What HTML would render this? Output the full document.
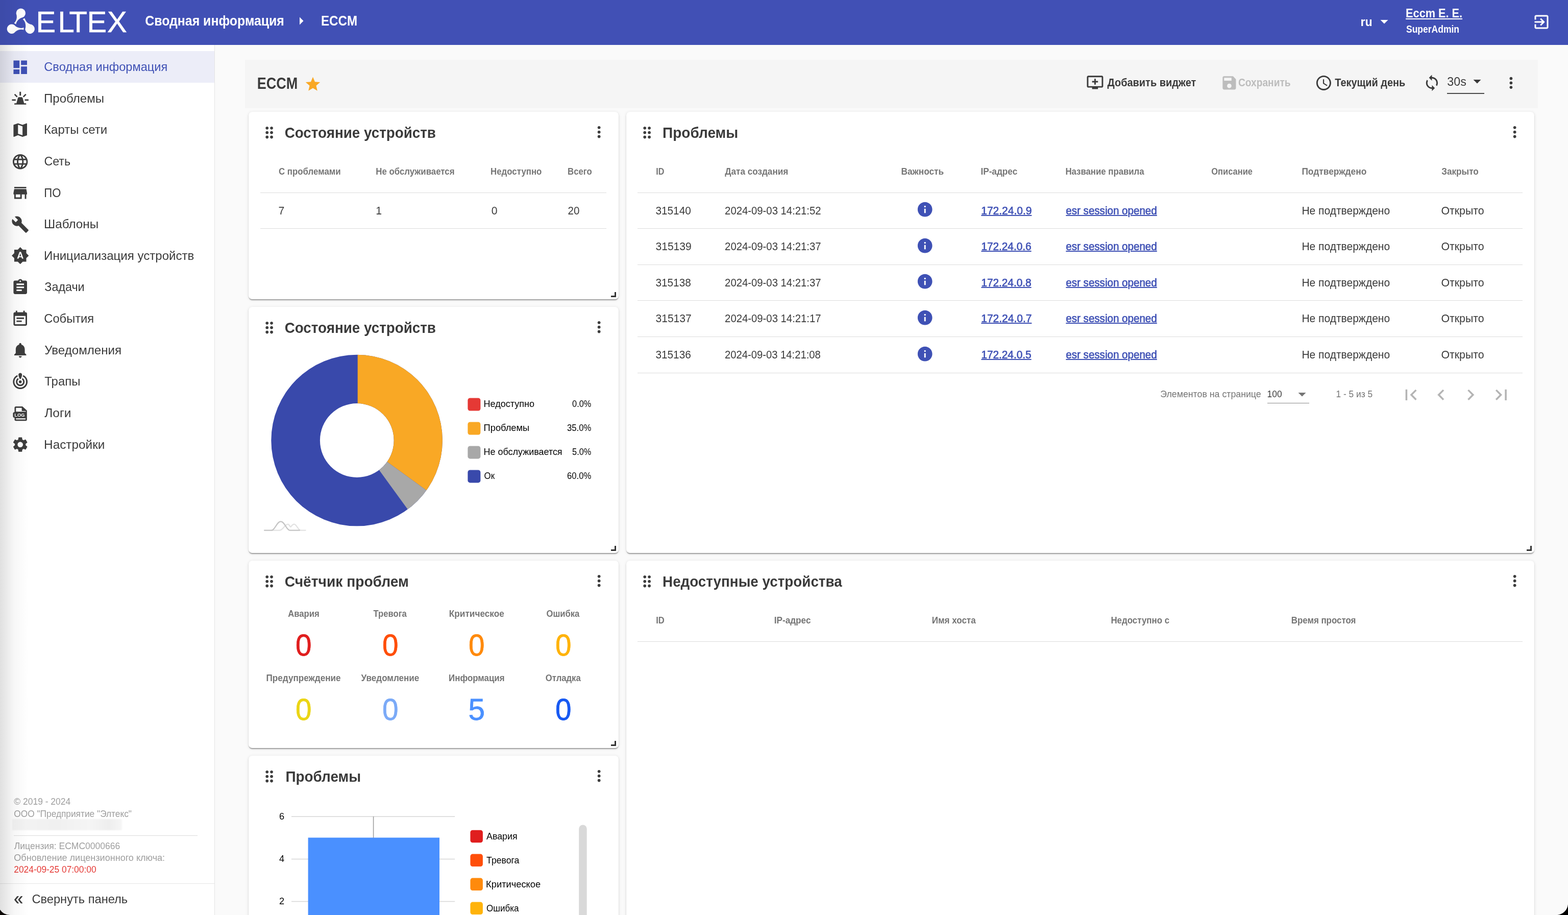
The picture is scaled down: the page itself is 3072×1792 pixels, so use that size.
<!DOCTYPE html>
<html lang="ru">
<head>
<meta charset="utf-8">
<title>ECCM — Сводная информация</title>
<style>
*{box-sizing:border-box;margin:0;padding:0}
html,body{width:3072px;height:1792px;overflow:hidden;background:#fafafa}
body{font-family:"Liberation Sans",sans-serif;color:#3a3a3a;position:relative}
svg{display:block}
a{color:#3f51b5;text-decoration:underline}
.t{display:inline-block;white-space:nowrap;transform-origin:0 50%}
.m{font-weight:700}
.lk{-webkit-text-stroke:.65px currentColor;text-decoration-thickness:1.7px;text-underline-offset:.6px}

.topbar{position:absolute;left:0;top:0;width:3072px;height:88px;background:#4150b5;color:#fff;z-index:5}
.topbar .shade{position:absolute;left:0;top:0;width:60px;height:88px;background:linear-gradient(90deg,rgba(0,0,0,.07),rgba(0,0,0,0))}
.logo{position:absolute;left:0;top:0;width:260px;height:88px}
.wordmark{font-family:"Liberation Sans",sans-serif;font-size:58px;fill:#fff;stroke:#fff;stroke-width:.6px}
.crumbs{position:absolute;left:284px;top:0;height:88px;list-style:none;font-size:27.7px;line-height:82px}
.crumbs li{position:absolute;top:0;white-space:nowrap}
.crumbs svg{position:absolute;left:288px;top:23px;width:36px;height:36px;fill:#fff}
.lang{position:absolute;left:2666px;top:0;height:88px;line-height:86px;font-size:24.6px}
.lang svg{position:absolute;left:28px;top:24px;width:36px;height:36px;fill:#fff}
.user{position:absolute;left:2755px;top:0;height:88px}
.user .name{position:absolute;left:0;top:10px;font-size:24.6px;line-height:32px;color:#fff}
.user .role{position:absolute;left:0;top:44.8px;font-size:20px;line-height:24px}
.logout{position:absolute;left:3001.5px;top:24.8px;width:36px;height:36px;fill:#fff}

.sidenav{position:absolute;left:0;top:88px;width:421px;height:1704px;background:#fff;border-right:1px solid #e4e4e4;z-index:4}
.sidenav .shade{position:absolute;left:0;top:0;width:56px;height:100%;background:linear-gradient(90deg,rgba(0,0,0,.12),rgba(0,0,0,.03) 50%,rgba(0,0,0,0));pointer-events:none}
.nav{position:absolute;left:0;top:12px;width:420px;list-style:none}
.nav li{position:relative;height:61.65px;font-size:24.6px;line-height:62px;padding-left:86px;white-space:nowrap;color:#3a3a3a}
.nav li svg{position:absolute;left:22px;top:13.6px;width:35.4px;height:35.4px;fill:#3d3d3d}
.nav li.active{background:#ecedf8;color:#3f51b5}
.nav li.active svg{fill:#3f51b5}
.foot{position:absolute;left:27px;margin-top:.6px;font-size:18.45px;line-height:24px;color:#9e9e9e;white-space:nowrap}
.foot.red{color:#e53935}
.blurbar{position:absolute;left:24px;top:1516px;width:215px;height:22px;background:linear-gradient(90deg,#f4f4f4,#f0f0f0 40%,#f5f5f5 70%,#eee 88%,#f6f6f6);border-radius:2px;filter:blur(1.2px)}
.foot-hr{position:absolute;left:27px;top:1548px;width:360px;height:1px;background:#dcdcdc}
.collapse{position:absolute;left:0;top:1642px;width:420px;height:62px;border-top:1px solid #e6e6e6;font-size:23.1px;line-height:60.8px;padding-left:62px;color:#3a3a3a;white-space:nowrap}
.collapse .gl{position:absolute;left:28px;top:-2.3px;font-size:35.5px;line-height:60px;-webkit-text-stroke:.5px currentColor}
.corner{position:absolute;bottom:0;width:24px;height:24px;z-index:20}
.corner.l{left:0}
.corner.r{right:0}

.dash-bar{position:absolute;left:480px;top:117px;width:2533px;height:95px;background:#f5f5f5}
.dash-title{position:absolute;left:24px;top:0;height:94px;line-height:94px;font-size:30.7px;color:#3a3a3a}
.dash-star{position:absolute;left:116px;top:31px;width:34px;height:34px;fill:#f9a825}
.tb{position:absolute;top:0;height:94px;line-height:90px;font-size:21.5px;color:#3a3a3a;white-space:nowrap}
.tb.dis{color:#bdbdbd}
.ti{position:absolute;width:34.8px;height:34.8px;fill:#3a3a3a}
.ti.dis{fill:#bdbdbd}
.sel30{position:absolute;left:2355px;top:24px;width:73px;height:43px;border-bottom:2px solid #4a4a4a;font-size:24.6px;line-height:37.6px;color:#3a3a3a}
.sel30 svg{position:absolute;left:41px;top:0;width:36px;height:36px;fill:#3a3a3a}

.card{position:absolute;background:#fff;border-radius:7px;box-shadow:0 3px 2px -1px rgba(0,0,0,.28),0 1px 2px 0 rgba(0,0,0,.14),0 1px 6px 0 rgba(0,0,0,.10);overflow:hidden}
.card h2{position:absolute;left:70px;top:18.9px;font-size:29.2px;line-height:44px;font-weight:400;color:#3a3a3a;white-space:nowrap}
.card .drag{position:absolute;left:23.4px;top:22.6px;width:35.3px;height:35.3px;fill:#3d3d3d}
.card .kebab{position:absolute;top:21.8px;width:35.3px;height:35.3px;fill:#3d3d3d}
.card .grip{position:absolute;right:5px;bottom:4px;width:10px;height:10px;border-right:3px solid #333;border-bottom:3px solid #333}

table{border-collapse:separate;border-spacing:0;position:absolute;table-layout:fixed}
th{height:85px;font-size:18.45px;font-weight:400;color:#757575;text-align:left;white-space:nowrap;border-bottom:1px solid #dcdcdc;padding:2.9px 0 0}
td{height:70px;font-size:21.5px;color:#3a3a3a;text-align:left;white-space:nowrap;border-bottom:1px solid #dcdcdc;padding:1.9px 0 0}
tr:nth-child(2) td,tr:nth-child(4) td,tr:nth-child(5) td{height:71px}
td svg{width:34.4px;height:34.4px;fill:#3f51b5;margin-left:29.2px;margin-top:-6px}
th:first-child,td:first-child{padding-left:36px}

.cnt{position:absolute;left:23px;width:678px;height:126px;display:flex;list-style:none}
.cnt li{width:169.5px;text-align:center;position:relative}
.cnt li>span{display:block;font-size:18.45px;line-height:24px;color:#757575;white-space:nowrap}
.cnt .t{display:inline-block}
.cnt b{display:block;font-size:60px;line-height:76px;font-weight:400;margin-top:11.9px;-webkit-text-stroke:.8px currentColor}
.cnt b .t{transform-origin:0 50%}
.pager{position:absolute;left:0;top:519px;width:1778px;height:68px}
.pager>span{position:absolute;top:0;height:68px;line-height:67.6px;font-size:18.45px;color:#757575;white-space:nowrap}
.pager .psel{width:82px;height:52px;line-height:67.6px;border-bottom:1.5px solid #8a8a8a;color:#3a3a3a}
.pager .psel svg{position:absolute;right:-4px;top:16px;width:36px;height:36px;fill:#757575}
.pager .pi{position:absolute;top:13.7px;width:42.5px;height:42.5px;fill:#b4b4b4}
.chart{position:absolute;left:1px;top:0}
.lg{position:absolute;font-size:18.45px;line-height:24px;color:#000;white-space:nowrap}
.ax{position:absolute;font-size:18.45px;line-height:24px;color:#000;white-space:nowrap}
</style>
</head>
<body>
<header class="topbar"><div class="shade"></div><svg class="logo" viewBox="0 0 260 88"><defs><linearGradient id="lg1" gradientUnits="userSpaceOnUse" x1="-32" x2="10" y1="0" y2="0"><stop offset="0" stop-color="#e9e9e9"/><stop offset="1" stop-color="#fff"/></linearGradient></defs><g transform="translate(40.8 46.4)" fill="url(#lg1)"><g id="comet"><circle cx="0" cy="-20.7" r="9.2"/><path d="M-8.3 -16.5C-7 -10.5 -9.5 -5 -13.2 -1.1L-9.6 1.2C-8 -6 -3 -10.5 6.5 -13.800Z"/></g><use href="#comet" transform="rotate(120)"/><use href="#comet" transform="rotate(240)"/></g><text class="wordmark" x="70.5 113.5 135.5 170.5 210" y="62.5">ELTEX</text></svg><ul class="crumbs"><li style="left:0"><span class="t m" style="transform:translateX(0.3px) scaleX(0.898)">Сводная информация</span></li><svg viewBox="0 0 24 24"><path d="M10 17l5-5-5-5v10z"/></svg><li style="left:344px"><span class="t m" style="transform:translateX(1.0px) scaleX(0.873)">ECCM</span></li></ul><div class="lang"><span class="t m" style="transform:translateX(-0.5px) scaleX(0.939)">ru</span><svg viewBox="0 0 24 24"><path d="M7 10l5 5 5-5z"/></svg></div><div class="user"><a class="t m name" style="transform:translateX(-0.9px) scaleX(0.882)">Eccm E. E.</a><div class="role"><span class="t m" style="transform:scaleX(0.875)">SuperAdmin</span></div></div><svg class="logout" viewBox="0 0 24 24"><path d="M10.09 15.59L11.5 17l5-5-5-5-1.41 1.41L12.67 11H3v2h9.67l-2.58 2.59zM19 3H5c-1.11 0-2 .9-2 2v4h2V5h14v14H5v-4H3v4c0 1.1.89 2 2 2h14c1.1 0 2-.9 2-2V5c0-1.1-.9-2-2-2z"/></svg></header><aside class="sidenav"><ul class="nav"><li class="active"><svg viewBox="0 0 24 24"><path d="M3 13h8V3H3v10zm0 8h8v-6H3v6zm10 0h8V11h-8v10zm0-18v6h8V3h-8z"/></svg><span class="t" style="transform:translateX(0.3px) scaleX(0.960)">Сводная информация</span></li><li><svg viewBox="0 0 24 24"><path d="M11 3.3h2v5h-2zM1 13.2h5v1.9H1zM18 13.2h5v1.9h-5zM3.9 7.2l1.25-1.25 3.4 3.4-1.25 1.25zM20.1 7.2l-1.25-1.25-3.4 3.4 1.25 1.25zM10.3 10.4h3.4c.8 0 1.3.5 1.5 1.2l1.9 6.8h2c.5 0 .8.3.8.8v1H4.1v-1c0-.5.3-.8.8-.8h2l1.9-6.8c.2-.7.7-1.2 1.5-1.2z"/></svg><span class="t" style="transform:translateX(0.1px) scaleX(0.977)">Проблемы</span></li><li><svg viewBox="0 0 24 24"><path d="M20.5 3l-.16.03L15 5.1 9 3 3.36 4.9c-.21.07-.36.25-.36.48V20.5c0 .28.22.5.5.5l.16-.03L9 18.9l6 2.1 5.64-1.9c.21-.07.36-.25.36-.48V3.5c0-.28-.22-.5-.5-.5zM15 19l-6-2.11V5l6 2.11V19z"/></svg><span class="t" style="transform:translateX(0.1px) scaleX(0.976)">Карты сети</span></li><li><svg viewBox="0 0 24 24"><path d="M11.99 2C6.47 2 2 6.48 2 12s4.47 10 9.99 10C17.52 22 22 17.52 22 12S17.52 2 11.99 2zm6.93 6h-2.95c-.32-1.25-.78-2.45-1.38-3.56 1.84.63 3.37 1.91 4.33 3.56zM12 4.04c.83 1.2 1.48 2.53 1.91 3.96h-3.82c.43-1.43 1.08-2.76 1.91-3.96zM4.26 14C4.1 13.36 4 12.69 4 12s.1-1.36.26-2h3.38c-.08.66-.14 1.32-.14 2 0 .68.06 1.34.14 2H4.26zm.82 2h2.95c.32 1.25.78 2.45 1.38 3.56-1.84-.63-3.37-1.9-4.33-3.56zm2.95-8H5.08c.96-1.66 2.49-2.93 4.33-3.56C8.81 5.55 8.35 6.75 8.03 8zM12 19.96c-.83-1.2-1.48-2.53-1.91-3.96h3.82c-.43 1.43-1.08 2.76-1.91 3.96zM14.34 14H9.66c-.09-.66-.16-1.32-.16-2 0-.68.07-1.35.16-2h4.68c.09.65.16 1.32.16 2 0 .68-.07 1.34-.16 2zm.25 5.56c.6-1.11 1.06-2.31 1.38-3.56h2.95c-.96 1.65-2.49 2.93-4.33 3.56zM16.36 14c.08-.66.14-1.32.14-2 0-.68-.06-1.34-.14-2h3.38c.16.64.26 1.31.26 2s-.1 1.36-.26 2h-3.38z"/></svg><span class="t" style="transform:translateX(0.4px) scaleX(0.944)">Сеть</span></li><li><svg viewBox="0 0 24 24"><path d="M20 4H4v2h16V4zm1 10v-2l-1-5H4l-1 5v2h1v6h10v-6h4v6h2v-6h1zm-9 4H6v-4h6v4z"/></svg><span class="t" style="transform:translateX(0.3px) scaleX(0.897)">ПО</span></li><li><svg viewBox="0 0 24 24"><path d="M22.7 19l-9.1-9.1c.9-2.3.4-5-1.5-6.9-2-2-5-2.4-7.4-1.3L9 6 6 9 1.6 4.7C.4 7.1.9 10.1 2.9 12.1c1.9 1.9 4.6 2.4 6.9 1.5l9.1 9.1c.4.4 1 .4 1.4 0l2.3-2.3c.5-.4.5-1.1.1-1.4z"/></svg><span class="t" style="transform:translateX(0.1px) scaleX(0.983)">Шаблоны</span></li><li><svg viewBox="0 0 24 24"><path d="M10.85 12.65h2.3L12 9l-1.15 3.65zM20 8.69V4h-4.69L12 .69 8.69 4H4v4.69L.69 12 4 15.31V20h4.69L12 23.31 15.31 20H20v-4.69L23.31 12 20 8.69zM14.3 16l-.7-2h-3.2l-.7 2H7.8L11 7h2l3.2 9h-1.9z"/></svg><span class="t" style="transform:translateX(0.1px) scaleX(0.978)">Инициализация устройств</span></li><li><svg viewBox="0 0 24 24"><path d="M19 3h-4.18C14.4 1.84 13.3 1 12 1c-1.3 0-2.4.84-2.82 2H5c-1.1 0-2 .9-2 2v14c0 1.1.9 2 2 2h14c1.1 0 2-.9 2-2V5c0-1.1-.9-2-2-2zm-7 0c.55 0 1 .45 1 1s-.45 1-1 1-1-.45-1-1 .45-1 1-1zm2 14H7v-2h7v2zm3-4H7v-2h10v2zm0-4H7V7h10v2z"/></svg><span class="t" style="transform:translateX(1.3px) scaleX(0.949)">Задачи</span></li><li><svg viewBox="0 0 24 24"><path d="M17 10H7v2h10v-2zm2-7h-1V1h-2v2H8V1H6v2H5c-1.11 0-1.99.9-1.99 2L3 19c0 1.1.89 2 2 2h14c1.1 0 2-.9 2-2V5c0-1.1-.9-2-2-2zm0 16H5V8h14v11zm-5-5H7v2h7v-2z"/></svg><span class="t" style="transform:translateX(0.3px) scaleX(0.963)">События</span></li><li><svg viewBox="0 0 24 24"><path d="M12 22c1.1 0 2-.9 2-2h-4c0 1.1.89 2 2 2zm6-6v-5c0-3.07-1.64-5.64-4.5-6.32V4c0-.83-.67-1.5-1.5-1.5s-1.5.67-1.5 1.5v.68C7.63 5.36 6 7.92 6 11v5l-2 2v1h16v-1l-2-2z"/></svg><span class="t" style="transform:translateX(1.3px) scaleX(0.980)">Уведомления</span></li><li><svg viewBox="0 0 24 24"><g fill="none" stroke="#3d3d3d" stroke-width="2" stroke-linecap="round"><path d="M7.62 4.42A8.75 8.75 0 1 0 16.38 4.42"/><path d="M8.79 8.43A4.8 4.8 0 1 0 15.21 8.43"/></g><circle cx="12" cy="12" r="1.9"/><path d="M12 .3c1.4 0 2.4 1.1 2.4 2.4 0 1.2-.9 3.6-1.3 4.8-.2.6-.6.9-1.1.9s-.9-.3-1.1-.9C10.5 6.3 9.600 3.900 9.600 2.700 9.600 1.400 10.600.3 12 .3z"/></svg><span class="t" style="transform:translateX(1.3px) scaleX(0.974)">Трапы</span></li><li><svg viewBox="0 0 24 24"><path fill-rule="evenodd" d="M6.200 2.700h8.700l6 5.500V20.400c0 .800-.700 1.500-1.500 1.500H6c-.900 0-1.600-.700-1.600-1.500V17.600H4c-.900 0-1.700-.800-1.700-1.700V12c0-.900.800-1.700 1.700-1.700h.400V4.300c0-.900.700-1.600 1.800-1.600zM6.300 4.600v5h13v-.800H14V4.600zm0 13.800v1.600h12.700v-1.600z"/><text x="4.300" y="16.300" font-family="Liberation Sans, sans-serif" font-size="6.300" font-weight="700" fill="#fff" textLength="13.800" lengthAdjust="spacingAndGlyphs">LOG</text></svg><span class="t" style="transform:translateX(1.3px) scaleX(0.993)">Логи</span></li><li><svg viewBox="0 0 24 24"><path d="M19.14 12.94c.04-.3.06-.61.06-.94 0-.32-.02-.64-.07-.94l2.03-1.58c.18-.14.23-.41.12-.61l-1.92-3.32c-.12-.22-.37-.29-.59-.22l-2.39.96c-.5-.38-1.03-.7-1.62-.94l-.36-2.54c-.04-.24-.24-.41-.48-.41h-3.84c-.24 0-.43.17-.47.41l-.36 2.54c-.59.24-1.13.57-1.62.94l-2.39-.96c-.22-.08-.47 0-.59.22L2.74 8.87c-.12.21-.08.47.12.61l2.03 1.58c-.05.3-.09.63-.09.94s.02.64.07.94l-2.03 1.58c-.18.14-.23.41-.12.61l1.92 3.32c.12.22.37.29.59.22l2.39-.96c.5.38 1.03.7 1.62.94l.36 2.54c.05.24.24.41.48.41h3.84c.24 0 .44-.17.47-.41l.36-2.54c.59-.24 1.13-.56 1.62-.94l2.39.96c.22.08.47 0 .59-.22l1.92-3.32c.12-.22.07-.47-.12-.61l-2.01-1.58zM12 15.6c-1.98 0-3.6-1.62-3.6-3.6s1.62-3.6 3.6-3.6 3.6 1.62 3.6 3.6-1.62 3.6-3.6 3.6z"/></svg><span class="t" style="transform:translateX(0.1px) scaleX(0.989)">Настройки</span></li></ul><div class="foot" style="top:1469px"><span class="t" style="transform:translateX(0.3px) scaleX(0.947)">© 2019 - 2024</span></div><div class="foot" style="top:1493px"><span class="t" style="transform:translateX(0.3px) scaleX(0.938)">ООО &quot;Предприятие &quot;Элтекс&quot;</span></div><div class="blurbar"></div><div class="foot-hr"></div><div class="foot" style="top:1556px"><span class="t" style="transform:translateX(0.8px) scaleX(0.951)">Лицензия: ECMC0000666</span></div><div class="foot" style="top:1579.5px"><span class="t" style="transform:translateX(0.3px) scaleX(0.979)">Обновление лицензионного ключа:</span></div><div class="foot red" style="top:1602.5px"><span class="t" style="transform:translateX(0.3px) scaleX(0.942)">2024-09-25 07:00:00</span></div><div class="collapse"><span class="t gl" style="transform:translateX(-0.7px) scaleX(0.906)">«</span><span class="t" style="transform:translateX(0.4px) scaleX(1.024)">Свернуть панель</span></div><div class="shade"></div></aside><main><div class="dash-bar"><div class="dash-title"><span class="t m" style="transform:translateX(-0.3px) scaleX(0.881)">ECCM</span></div><svg class="dash-star" viewBox="0 0 24 24"><path d="M12 17.27L18.18 21l-1.64-7.03L22 9.24l-7.19-.61L12 2 9.19 8.63 2 9.24l5.46 4.73L5.82 21z"/></svg><svg class="ti" style="left:1647.5px;top:27.2px" viewBox="0 0 24 24"><path d="M21 3H3c-1.11 0-2 .89-2 2v12c0 1.1.89 2 2 2h5v2h8v-2h5c1.1 0 1.99-.9 1.99-2L23 5c0-1.11-.9-2-2-2zm0 14H3V5h18v12zm-5-7v2h-3v3h-2v-3H8v-2h3V7h2v3h3z"/></svg><div class="tb" style="left:1690px"><span class="t m" style="transform:translateX(-0.4px) scaleX(0.927)">Добавить виджет</span></div><svg class="ti dis" style="left:1910.7px;top:27.9px" viewBox="0 0 24 24"><path d="M17 3H5c-1.11 0-2 .9-2 2v14c0 1.1.89 2 2 2h14c1.1 0 2-.9 2-2V7l-4-4zm-5 16c-1.66 0-3-1.34-3-3s1.34-3 3-3 3 1.34 3 3-1.34 3-3 3zm3-10H5V5h10v4z"/></svg><div class="tb dis" style="left:1946px"><span class="t m" style="transform:scaleX(0.891)">Сохранить</span></div><svg class="ti" style="left:2096px;top:27.7px" viewBox="0 0 24 24"><path d="M11.99 2C6.47 2 2 6.48 2 12s4.47 10 9.99 10C17.52 22 22 17.52 22 12S17.52 2 11.99 2zM12 20c-4.42 0-8-3.58-8-8s3.58-8 8-8 8 3.58 8 8-3.58 8-8 8zm.5-13H11v6l5.25 3.15.75-1.23-4.5-2.67z"/></svg><div class="tb" style="left:2135px"><span class="t m" style="transform:translateX(0.3px) scaleX(0.925)">Текущий день</span></div><svg class="ti" style="left:2308.2px;top:27.7px" viewBox="0 0 24 24"><path d="M12 4V1L8 5l4 4V6c3.31 0 6 2.69 6 6 0 1.01-.25 1.97-.7 2.8l1.46 1.46C19.54 15.03 20 13.57 20 12c0-4.42-3.58-8-8-8zm0 14c-3.31 0-6-2.69-6-6 0-1.01.25-1.97.7-2.800L5.240 7.740C4.460 8.970 4 10.430 4 12c0 4.420 3.580 8 8 8v3l4-4-4-4v3z"/></svg><div class="sel30"><span class="t" style="transform:translateX(0.3px) scaleX(0.945)">30s</span><svg viewBox="0 0 24 24"><path d="M7 10l5 5 5-5z"/></svg></div><svg class="ti" style="left:2462.6px;top:27.8px" viewBox="0 0 24 24"><path d="M12 8c1.1 0 2-.9 2-2s-.9-2-2-2-2 .9-2 2 .9 2 2 2zm0 2c-1.1 0-2 .9-2 2s.9 2 2 2 2-.9 2-2-.9-2-2-2zm0 6c-1.1 0-2 .9-2 2s.9 2 2 2 2-.9 2-2-.9-2-2-2z"/></svg></div><section class="card" style="left:487px;top:219px;width:725px;height:367px"><svg class="drag" viewBox="0 0 24 24"><path d="M11 18c0 1.1-.9 2-2 2s-2-.9-2-2 .9-2 2-2 2 .9 2 2zm-2-8c-1.1 0-2 .9-2 2s.9 2 2 2 2-.9 2-2-.9-2-2-2zm0-6c-1.1 0-2 .9-2 2s.9 2 2 2 2-.9 2-2-.9-2-2-2zm6 4c1.1 0 2-.9 2-2s-.9-2-2-2-2 .9-2 2 .9 2 2 2zm0 2c-1.1 0-2 .9-2 2s.9 2 2 2 2-.9 2-2-.9-2-2-2zm0 6c-1.1 0-2 .9-2 2s.9 2 2 2 2-.9 2-2-.9-2-2-2z"/></svg><h2><span class="t m" style="transform:translateX(0.7px) scaleX(0.952)">Состояние устройств</span></h2><svg class="kebab" style="right:21.15px" viewBox="0 0 24 24"><path d="M12 8c1.1 0 2-.9 2-2s-.9-2-2-2-2 .9-2 2 .9 2 2 2zm0 2c-1.1 0-2 .9-2 2s.9 2 2 2 2-.9 2-2-.9-2-2-2zm0 6c-1.1 0-2 .9-2 2s.9 2 2 2 2-.9 2-2-.9-2-2-2z"/></svg><table style="left:23px;top:74px;width:678px"><colgroup><col style="width:226.3px"><col style="width:225.3px"><col style="width:151.8px"><col></colgroup><thead><tr><th><span class="t m" style="transform:scaleX(0.913)">С проблемами</span></th><th><span class="t m" style="transform:translateX(0.3px) scaleX(0.913)">Не обслуживается</span></th><th><span class="t m" style="transform:translateX(-0.9px) scaleX(0.913)">Недоступно</span></th><th><span class="t m" style="transform:translateX(-0.9px) scaleX(0.909)">Всего</span></th></tr></thead><tbody><tr><td><span class="t" style="transform:translateX(-0.5px) scaleX(0.985)">7</span></td><td><span class="t" style="transform:translateX(0.2px) scaleX(0.985)">1</span></td><td><span class="t" style="transform:translateX(0.7px) scaleX(0.985)">0</span></td><td><span class="t" style="transform:translateX(-0.4px) scaleX(0.954)">20</span></td></tr></tbody></table><div class="grip"></div></section><section class="card" style="left:487px;top:601px;width:725px;height:482px"><svg class="drag" viewBox="0 0 24 24"><path d="M11 18c0 1.1-.9 2-2 2s-2-.9-2-2 .9-2 2-2 2 .9 2 2zm-2-8c-1.1 0-2 .9-2 2s.9 2 2 2 2-.9 2-2-.9-2-2-2zm0-6c-1.1 0-2 .9-2 2s.9 2 2 2 2-.9 2-2-.9-2-2-2zm6 4c1.1 0 2-.9 2-2s-.9-2-2-2-2 .9-2 2 .9 2 2 2zm0 2c-1.1 0-2 .9-2 2s.9 2 2 2 2-.9 2-2-.9-2-2-2zm0 6c-1.1 0-2 .9-2 2s.9 2 2 2 2-.9 2-2-.9-2-2-2z"/></svg><h2><span class="t m" style="transform:translateX(0.7px) scaleX(0.952)">Состояние устройств</span></h2><svg class="kebab" style="right:21.15px" viewBox="0 0 24 24"><path d="M12 8c1.1 0 2-.9 2-2s-.9-2-2-2-2 .9-2 2 .9 2 2 2zm0 2c-1.1 0-2 .9-2 2s.9 2 2 2 2-.9 2-2-.9-2-2-2zm0 6c-1.1 0-2 .9-2 2s.9 2 2 2 2-.9 2-2-.9-2-2-2z"/></svg><svg class="chart" width="724" height="482" viewBox="0 0 724 482"><defs><clipPath id="ring"><path clip-rule="evenodd" d="M43.29999999999998 261.5a167.8 167.8 0 1 0 335.6 0a167.8 167.8 0 1 0 -335.6 0zM138.89999999999998 261.5a72.4 72.4 0 1 0 144.8 0a72.4 72.4 0 1 0 -144.8 0z"/></clipPath></defs><g clip-path="url(#ring)"><rect x="0" y="60" width="420" height="400" fill="#3949ab"/><polygon fill="#f9a825" points="212.7,261.5 212.7,-138.5 321.3,-123.5 421.7,-79.6 506.4,-10.0 569.1,79.9 605.0,183.5 611.5,292.9 588.0,399.9 536.3,496.6"/><polygon fill="#a8a8a8" points="212.7,261.5 536.3,496.6 526.8,509.1 516.9,521.3 506.4,533.0 495.5,544.3 484.2,555.2 472.5,565.7 460.3,575.6 447.8,585.1"/></g><rect x="428.4" y="178.5" width="25" height="25" rx="4.500" fill="#e53935"/><rect x="428.4" y="225.5" width="25" height="25" rx="4.500" fill="#f9a825"/><rect x="428.4" y="272.4" width="25" height="25" rx="4.500" fill="#a8a8a8"/><rect x="428.4" y="319.4" width="25" height="25" rx="4.500" fill="#3949ab"/><g fill="none" stroke-width="2.2" stroke-linecap="round" stroke-linejoin="round"><path stroke="#e2e2e2" d="M44 437.600H60C66 437.600 70 425.700 76.300 425.700C78.500 425.700 80 431 81.300 431C82.600 431 84 425.700 88.400 425.700C93 425.700 96 437.600 101 437.600H110.600"/><path stroke="#c4c4c4" d="M30 437.600H44C51 437.600 54 420.400 62 420.400S73 437.600 80 437.600H99"/></g></svg><ul style="list-style:none"><li class="lg" style="left:461px;top:178.2px"><span class="t" style="transform:translateX(-0.4px) scaleX(0.977)">Недоступно</span></li><li class="lg" style="left:631px;top:178.2px"><span class="t" style="transform:translateX(3.1px) scaleX(0.884)">0.0%</span></li><li class="lg" style="left:461px;top:225.2px"><span class="t" style="transform:translateX(-0.4px) scaleX(0.991)">Проблемы</span></li><li class="lg" style="left:631px;top:225.2px"><span class="t" style="transform:translateX(-7.0px) scaleX(0.904)">35.0%</span></li><li class="lg" style="left:461px;top:272.1px"><span class="t" style="transform:translateX(-0.4px) scaleX(0.973)">Не обслуживается</span></li><li class="lg" style="left:631px;top:272.1px"><span class="t" style="transform:translateX(3.1px) scaleX(0.884)">5.0%</span></li><li class="lg" style="left:461px;top:319.1px"><span class="t" style="transform:translateX(0.6px) scaleX(0.913)">Ок</span></li><li class="lg" style="left:631px;top:319.1px"><span class="t" style="transform:translateX(-7.0px) scaleX(0.904)">60.0%</span></li></ul><div class="grip"></div></section><section class="card" style="left:487px;top:1098px;width:725px;height:367px"><svg class="drag" viewBox="0 0 24 24"><path d="M11 18c0 1.1-.9 2-2 2s-2-.9-2-2 .9-2 2-2 2 .9 2 2zm-2-8c-1.1 0-2 .9-2 2s.9 2 2 2 2-.9 2-2-.9-2-2-2zm0-6c-1.1 0-2 .9-2 2s.9 2 2 2 2-.9 2-2-.9-2-2-2zm6 4c1.1 0 2-.9 2-2s-.9-2-2-2-2 .9-2 2 .9 2 2 2zm0 2c-1.1 0-2 .9-2 2s.9 2 2 2 2-.9 2-2-.9-2-2-2zm0 6c-1.1 0-2 .9-2 2s.9 2 2 2 2-.9 2-2-.9-2-2-2z"/></svg><h2><span class="t m" style="transform:translateX(0.8px) scaleX(0.965)">Счётчик проблем</span></h2><svg class="kebab" style="right:21.15px" viewBox="0 0 24 24"><path d="M12 8c1.1 0 2-.9 2-2s-.9-2-2-2-2 .9-2 2 .9 2 2 2zm0 2c-1.1 0-2 .9-2 2s.9 2 2 2 2-.9 2-2-.9-2-2-2zm0 6c-1.1 0-2 .9-2 2s.9 2 2 2 2-.9 2-2-.9-2-2-2z"/></svg><ul class="cnt" style="top:92.3px"><li><span><span class="t m" style="transform:translateX(3.3px) scaleX(0.903)">Авария</span></span><b style="color:#e01e1e"><span class="t" style="transform:translateX(1.0px) scaleX(0.943)">0</span></b></li><li><span><span class="t m" style="transform:translateX(3.6px) scaleX(0.901)">Тревога</span></span><b style="color:#ff4e09"><span class="t" style="transform:translateX(1.0px) scaleX(0.943)">0</span></b></li><li><span><span class="t m" style="transform:translateX(3.8px) scaleX(0.934)">Критическое</span></span><b style="color:#ff8a0c"><span class="t" style="transform:translateX(1.0px) scaleX(0.943)">0</span></b></li><li><span><span class="t m" style="transform:translateX(3.6px) scaleX(0.900)">Ошибка</span></span><b style="color:#ffb30b"><span class="t" style="transform:translateX(1.0px) scaleX(0.943)">0</span></b></li></ul><ul class="cnt" style="top:218.1px"><li><span><span class="t m" style="transform:translateX(5.5px) scaleX(0.930)">Предупреждение</span></span><b style="color:#ebd515"><span class="t" style="transform:translateX(1.0px) scaleX(0.943)">0</span></b></li><li><span><span class="t m" style="transform:translateX(4.6px) scaleX(0.925)">Уведомление</span></span><b style="color:#7baaf7"><span class="t" style="transform:translateX(1.0px) scaleX(0.943)">0</span></b></li><li><span><span class="t m" style="transform:translateX(5.1px) scaleX(0.915)">Информация</span></span><b style="color:#4a90ff"><span class="t" style="transform:translateX(0.4px) scaleX(0.976)">5</span></b></li><li><span><span class="t m" style="transform:translateX(3.7px) scaleX(0.905)">Отладка</span></span><b style="color:#1759f2"><span class="t" style="transform:translateX(1.0px) scaleX(0.943)">0</span></b></li></ul><div class="grip"></div></section><section class="card" style="left:487px;top:1480px;width:725px;height:420px"><svg class="drag" viewBox="0 0 24 24"><path d="M11 18c0 1.1-.9 2-2 2s-2-.9-2-2 .9-2 2-2 2 .9 2 2zm-2-8c-1.1 0-2 .9-2 2s.9 2 2 2 2-.9 2-2-.9-2-2-2zm0-6c-1.1 0-2 .9-2 2s.9 2 2 2 2-.9 2-2-.9-2-2-2zm6 4c1.1 0 2-.9 2-2s-.9-2-2-2-2 .9-2 2 .9 2 2 2zm0 2c-1.1 0-2 .9-2 2s.9 2 2 2 2-.9 2-2-.9-2-2-2zm0 6c-1.1 0-2 .9-2 2s.9 2 2 2 2-.9 2-2-.9-2-2-2z"/></svg><h2><span class="t m" style="transform:translateX(2.4px) scaleX(0.956)">Проблемы</span></h2><svg class="kebab" style="right:21.15px" viewBox="0 0 24 24"><path d="M12 8c1.1 0 2-.9 2-2s-.9-2-2-2-2 .9-2 2 .9 2 2 2zm0 2c-1.1 0-2 .9-2 2s.9 2 2 2 2-.9 2-2-.9-2-2-2zm0 6c-1.1 0-2 .9-2 2s.9 2 2 2 2-.9 2-2-.9-2-2-2z"/></svg><svg class="chart" width="724" height="420" viewBox="0 0 724 420"><line x1="83" x2="403.2" y1="119.3" y2="119.3" stroke="#d6d6d6" stroke-width="1.500"/><line x1="83" x2="403.2" y1="202.6" y2="202.6" stroke="#d6d6d6" stroke-width="1.500"/><line x1="83" x2="403.2" y1="285.4" y2="285.4" stroke="#d6d6d6" stroke-width="1.500"/><line x1="83" x2="403.2" y1="368.6" y2="368.6" stroke="#d6d6d6" stroke-width="1.500"/><line x1="243.6" x2="243.6" y1="119" y2="161" stroke="#9a9a9a" stroke-width="1.500"/><rect x="115.6" y="160.5" width="257.4" height="260" fill="#4a90ff"/><rect x="433.4" y="145.7" width="24.500" height="24.500" rx="4.500" fill="#e01e1e"/><rect x="433.4" y="192.6" width="24.500" height="24.500" rx="4.500" fill="#ff4e09"/><rect x="433.4" y="239.6" width="24.500" height="24.500" rx="4.500" fill="#ff8a0c"/><rect x="433.4" y="286.6" width="24.500" height="24.500" rx="4.500" fill="#ffb30b"/><rect x="646.2" y="135.5" width="15.500" height="300" rx="7.700" fill="#d9d9d9"/></svg><ul style="list-style:none"><li class="ax" style="left:60.3px;top:107.0px"><span class="t" style="transform:scaleX(0.985)">6</span></li><li class="ax" style="left:60.3px;top:190.3px"><span class="t" style="transform:scaleX(0.985)">4</span></li><li class="ax" style="left:60.3px;top:273.1px"><span class="t" style="transform:scaleX(0.985)">2</span></li><li class="ax" style="left:60.3px;top:356.3px"><span class="t" style="transform:scaleX(0.985)">0</span></li><li class="lg" style="left:465px;top:146.0px"><span class="t" style="transform:translateX(1.1px) scaleX(0.964)">Авария</span></li><li class="lg" style="left:465px;top:192.9px"><span class="t" style="transform:translateX(1.1px) scaleX(0.957)">Тревога</span></li><li class="lg" style="left:465px;top:239.9px"><span class="t" style="transform:translateX(0.1px) scaleX(0.992)">Критическое</span></li><li class="lg" style="left:465px;top:286.9px"><span class="t" style="transform:translateX(1.1px) scaleX(0.923)">Ошибка</span></li></ul></section><section class="card" style="left:1227px;top:219px;width:1779px;height:864px"><svg class="drag" viewBox="0 0 24 24"><path d="M11 18c0 1.1-.9 2-2 2s-2-.9-2-2 .9-2 2-2 2 .9 2 2zm-2-8c-1.1 0-2 .9-2 2s.9 2 2 2 2-.9 2-2-.9-2-2-2zm0-6c-1.1 0-2 .9-2 2s.9 2 2 2 2-.9 2-2-.9-2-2-2zm6 4c1.1 0 2-.9 2-2s-.9-2-2-2-2 .9-2 2 .9 2 2 2zm0 2c-1.1 0-2 .9-2 2s.9 2 2 2 2-.9 2-2-.9-2-2-2zm0 6c-1.1 0-2 .9-2 2s.9 2 2 2 2-.9 2-2-.9-2-2-2z"/></svg><h2><span class="t m" style="transform:translateX(1.1px) scaleX(0.959)">Проблемы</span></h2><svg class="kebab" style="right:20.55px" viewBox="0 0 24 24"><path d="M12 8c1.1 0 2-.9 2-2s-.9-2-2-2-2 .9-2 2 .9 2 2 2zm0 2c-1.1 0-2 .9-2 2s.9 2 2 2 2-.9 2-2-.9-2-2-2zm0 6c-1.1 0-2 .9-2 2s.9 2 2 2 2-.9 2-2-.9-2-2-2z"/></svg><table style="left:22px;top:74px;width:1734px"><colgroup><col style="width:171px"><col style="width:345.7px"><col style="width:156.4px"><col style="width:165.6px"><col style="width:285.3px"><col style="width:177.6px"><col style="width:273.1px"><col></colgroup><thead><tr><th><span class="t m" style="transform:translateX(0.2px) scaleX(0.876)">ID</span></th><th><span class="t m" style="transform:translateX(0.3px) scaleX(0.929)">Дата создания</span></th><th><span class="t m" style="transform:translateX(-0.6px) scaleX(0.937)">Важность</span></th><th><span class="t m" style="transform:translateX(-0.6px) scaleX(0.932)">IP-адрес</span></th><th><span class="t m" style="transform:translateX(-0.6px) scaleX(0.910)">Название правила</span></th><th><span class="t m" style="transform:translateX(0.3px) scaleX(0.893)">Описание</span></th><th><span class="t m" style="transform:translateX(-0.6px) scaleX(0.941)">Подтверждено</span></th><th><span class="t m" style="transform:translateX(0.3px) scaleX(0.928)">Закрыто</span></th></tr></thead><tbody><tr><td><span class="t" style="transform:translateX(-0.5px) scaleX(0.965)">315140</span></td><td><span class="t" style="transform:translateX(0.1px) scaleX(0.944)">2024-09-03 14:21:52</span></td><td><svg viewBox="0 0 24 24"><path d="M12 2C6.48 2 2 6.48 2 12s4.48 10 10 10 10-4.48 10-10S17.52 2 12 2zm1 15h-2v-6h2v6zm0-8h-2V7h2v2z"/></svg></td><td><a class="t lk" style="transform:translateX(0.3px) scaleX(0.975)">172.24.0.9</a></td><td><a class="t lk" style="transform:translateX(0.3px) scaleX(0.957)">esr session opened</a></td><td></td><td><span class="t" style="transform:translateX(-0.6px) scaleX(0.977)">Не подтверждено</span></td><td><span class="t" style="transform:translateX(-0.6px) scaleX(0.991)">Открыто</span></td></tr><tr><td><span class="t" style="transform:translateX(-0.5px) scaleX(0.979)">315139</span></td><td><span class="t" style="transform:translateX(0.1px) scaleX(0.944)">2024-09-03 14:21:37</span></td><td><svg viewBox="0 0 24 24"><path d="M12 2C6.48 2 2 6.48 2 12s4.48 10 10 10 10-4.48 10-10S17.52 2 12 2zm1 15h-2v-6h2v6zm0-8h-2V7h2v2z"/></svg></td><td><a class="t lk" style="transform:translateX(0.4px) scaleX(0.966)">172.24.0.6</a></td><td><a class="t lk" style="transform:translateX(0.3px) scaleX(0.957)">esr session opened</a></td><td></td><td><span class="t" style="transform:translateX(-0.6px) scaleX(0.977)">Не подтверждено</span></td><td><span class="t" style="transform:translateX(-0.6px) scaleX(0.991)">Открыто</span></td></tr><tr><td><span class="t" style="transform:translateX(-0.5px) scaleX(0.965)">315138</span></td><td><span class="t" style="transform:translateX(0.1px) scaleX(0.944)">2024-09-03 14:21:37</span></td><td><svg viewBox="0 0 24 24"><path d="M12 2C6.48 2 2 6.48 2 12s4.48 10 10 10 10-4.48 10-10S17.52 2 12 2zm1 15h-2v-6h2v6zm0-8h-2V7h2v2z"/></svg></td><td><a class="t lk" style="transform:translateX(0.4px) scaleX(0.966)">172.24.0.8</a></td><td><a class="t lk" style="transform:translateX(0.3px) scaleX(0.957)">esr session opened</a></td><td></td><td><span class="t" style="transform:translateX(-0.6px) scaleX(0.977)">Не подтверждено</span></td><td><span class="t" style="transform:translateX(-0.6px) scaleX(0.991)">Открыто</span></td></tr><tr><td><span class="t" style="transform:translateX(-0.5px) scaleX(0.979)">315137</span></td><td><span class="t" style="transform:translateX(0.1px) scaleX(0.944)">2024-09-03 14:21:17</span></td><td><svg viewBox="0 0 24 24"><path d="M12 2C6.48 2 2 6.48 2 12s4.48 10 10 10 10-4.48 10-10S17.52 2 12 2zm1 15h-2v-6h2v6zm0-8h-2V7h2v2z"/></svg></td><td><a class="t lk" style="transform:translateX(0.3px) scaleX(0.975)">172.24.0.7</a></td><td><a class="t lk" style="transform:translateX(0.3px) scaleX(0.957)">esr session opened</a></td><td></td><td><span class="t" style="transform:translateX(-0.6px) scaleX(0.977)">Не подтверждено</span></td><td><span class="t" style="transform:translateX(-0.6px) scaleX(0.991)">Открыто</span></td></tr><tr><td><span class="t" style="transform:translateX(-0.5px) scaleX(0.965)">315136</span></td><td><span class="t" style="transform:translateX(0.1px) scaleX(0.940)">2024-09-03 14:21:08</span></td><td><svg viewBox="0 0 24 24"><path d="M12 2C6.48 2 2 6.48 2 12s4.48 10 10 10 10-4.48 10-10S17.52 2 12 2zm1 15h-2v-6h2v6zm0-8h-2V7h2v2z"/></svg></td><td><a class="t lk" style="transform:translateX(0.4px) scaleX(0.966)">172.24.0.5</a></td><td><a class="t lk" style="transform:translateX(0.3px) scaleX(0.957)">esr session opened</a></td><td></td><td><span class="t" style="transform:translateX(-0.6px) scaleX(0.977)">Не подтверждено</span></td><td><span class="t" style="transform:translateX(-0.6px) scaleX(0.991)">Открыто</span></td></tr></tbody></table><div class="pager"><span style="left:1046px"><span class="t" style="transform:translateX(0.3px) scaleX(0.963)">Элементов на странице</span></span><span class="psel" style="left:1256px"><span class="t" style="transform:translateX(-0.4px) scaleX(0.942)">100</span><svg viewBox="0 0 24 24"><path d="M7 10l5 5 5-5z"/></svg></span><span style="left:1391px"><span class="t" style="transform:translateX(-0.4px) scaleX(0.939)">1 - 5 из 5</span></span><svg class="pi" style="left:1516.2px" viewBox="0 0 24 24"><path d="M18.41 16.59L13.82 12l4.59-4.59L17 6l-6 6 6 6zM6 6h2v12H6z"/></svg><svg class="pi" style="left:1575.3px" viewBox="0 0 24 24"><path d="M15.41 7.41L14 6l-6 6 6 6 1.41-1.41L10.83 12z"/></svg><svg class="pi" style="left:1633px" viewBox="0 0 24 24"><path d="M10 6L8.59 7.41 13.17 12l-4.58 4.59L10 18l6-6z"/></svg><svg class="pi" style="left:1692.6px" viewBox="0 0 24 24"><path d="M5.59 7.41L10.18 12l-4.59 4.59L7 18l6-6-6-6zM16 6h2v12h-2z"/></svg></div><div class="grip"></div></section><section class="card" style="left:1227px;top:1098px;width:1779px;height:800px"><svg class="drag" viewBox="0 0 24 24"><path d="M11 18c0 1.1-.9 2-2 2s-2-.9-2-2 .9-2 2-2 2 .9 2 2zm-2-8c-1.1 0-2 .9-2 2s.9 2 2 2 2-.9 2-2-.9-2-2-2zm0-6c-1.1 0-2 .9-2 2s.9 2 2 2 2-.9 2-2-.9-2-2-2zm6 4c1.1 0 2-.9 2-2s-.9-2-2-2-2 .9-2 2 .9 2 2 2zm0 2c-1.1 0-2 .9-2 2s.9 2 2 2 2-.9 2-2-.9-2-2-2zm0 6c-1.1 0-2 .9-2 2s.9 2 2 2 2-.9 2-2-.9-2-2-2z"/></svg><h2><span class="t m" style="transform:translateX(1.1px) scaleX(0.952)">Недоступные устройства</span></h2><svg class="kebab" style="right:20.55px" viewBox="0 0 24 24"><path d="M12 8c1.1 0 2-.9 2-2s-.9-2-2-2-2 .9-2 2 .9 2 2 2zm0 2c-1.1 0-2 .9-2 2s.9 2 2 2 2-.9 2-2-.9-2-2-2zm0 6c-1.1 0-2 .9-2 2s.9 2 2 2 2-.9 2-2-.9-2-2-2z"/></svg><table style="left:22px;top:74px;width:1734px"><colgroup><col style="width:267.2px"><col style="width:309.3px"><col style="width:350.2px"><col style="width:353.6px"><col></colgroup><thead><tr><th><span class="t m" style="transform:translateX(0.2px) scaleX(0.899)">ID</span></th><th><span class="t m" style="transform:translateX(0.7px) scaleX(0.932)">IP-адрес</span></th><th><span class="t m" style="transform:translateX(0.7px) scaleX(0.923)">Имя хоста</span></th><th><span class="t m" style="transform:translateX(0.4px) scaleX(0.916)">Недоступно с</span></th><th><span class="t m" style="transform:translateX(0.7px) scaleX(0.916)">Время простоя</span></th></tr></thead></table></section></main><svg class="corner l" viewBox="0 0 24 24"><path fill="#0d0805" d="M0 13.500A23.400 23.400 0 0 0 19.500 24H0z"/></svg><svg class="corner r" viewBox="0 0 24 24"><path fill="#000" d="M24 3.300A23.100 23.100 0 0 1 3.300 24H24z"/></svg>
</body>
</html>
